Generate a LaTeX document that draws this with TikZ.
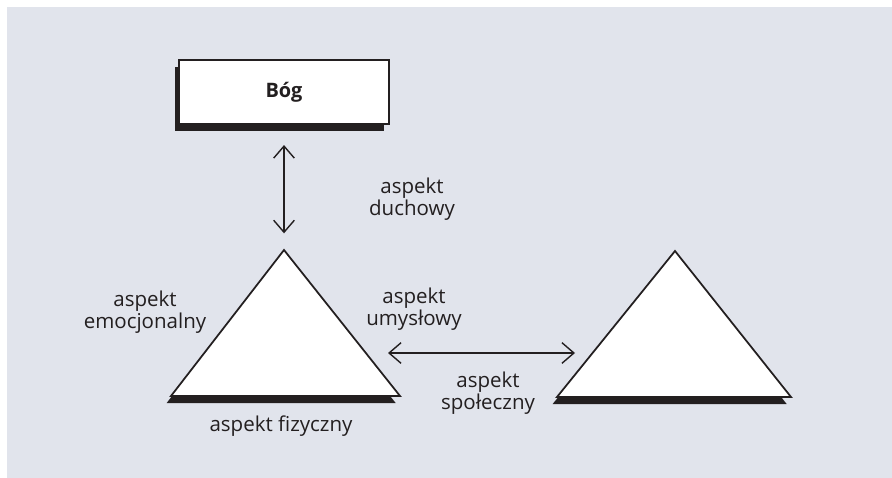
\documentclass[tikz,border=0pt]{standalone}
\usepackage{fontspec}
\setmainfont{Open Sans}
\usetikzlibrary{arrows.meta,shadows}
\definecolor{bgblue}{HTML}{E1E4EC}
\definecolor{inkblack}{HTML}{231F20}

\begin{document}
\begin{tikzpicture}[x=0.03cm,y=-0.03cm,
        aspect/.style={align=center,text=inkblack,font=\fontsize{17.5}{19}\selectfont},
        solidshadow/.style={drop shadow={shadow xshift=-0.13cm,shadow yshift=-0.21cm,opacity=1,fill=inkblack}},
        godbox/.style={draw=inkblack,fill=white,line width=1.5pt,minimum width=6.28cm,minimum height=1.93cm,solidshadow,font=\fontsize{17}{19}\selectfont\bfseries,text=inkblack},
        pyramid/.style={draw=inkblack,fill=white,line width=1.5pt,line join=miter,solidshadow},
        twoway/.style={draw=inkblack,line width=1.2pt,{Straight Barb[length=0.36cm,width=0.62cm]}-{Straight Barb[length=0.36cm,width=0.62cm]}}]
    \useasboundingbox (0,0) rectangle (892,478);
    \fill[bgblue] (7,7) rectangle (892,478);

    % Bog
    \node[godbox] (bog) at (284,92) {Bóg};

    % triangles
    \coordinate (apexL) at (284,250);
    \coordinate (leftL) at (171,396);
    \coordinate (rightL) at (400,396);
    \coordinate (apexR) at (675,251);
    \coordinate (leftR) at (557,397);
    \coordinate (rightR) at (791,397);
    \filldraw[pyramid] (apexL) -- (rightL) -- (leftL) -- cycle;
    \filldraw[pyramid] (apexR) -- (rightR) -- (leftR) -- cycle;

    % arrows
    \coordinate (umL) at (367,353);
    \coordinate (umR) at (592,353);
    \draw[twoway,shorten <=0.6cm,shorten >=0.5cm] (bog.south) -- (apexL);
    \draw[twoway,shorten <=0.63cm,shorten >=0.51cm] (umL) -- (umR);

    % labels
    \node[aspect] (duch) at (412,199) {aspekt\\duchowy};
    \node[aspect] (emoc) at (145,312) {aspekt\\emocjonalny};
    \node[aspect] (umysl) at (414,309) {aspekt\\umysłowy};
    \node[aspect] (spol) at (488,393) {aspekt\\społeczny};
    \node[aspect] (fiz) at (281,426) {aspekt fizyczny};
\end{tikzpicture}
\end{document}
